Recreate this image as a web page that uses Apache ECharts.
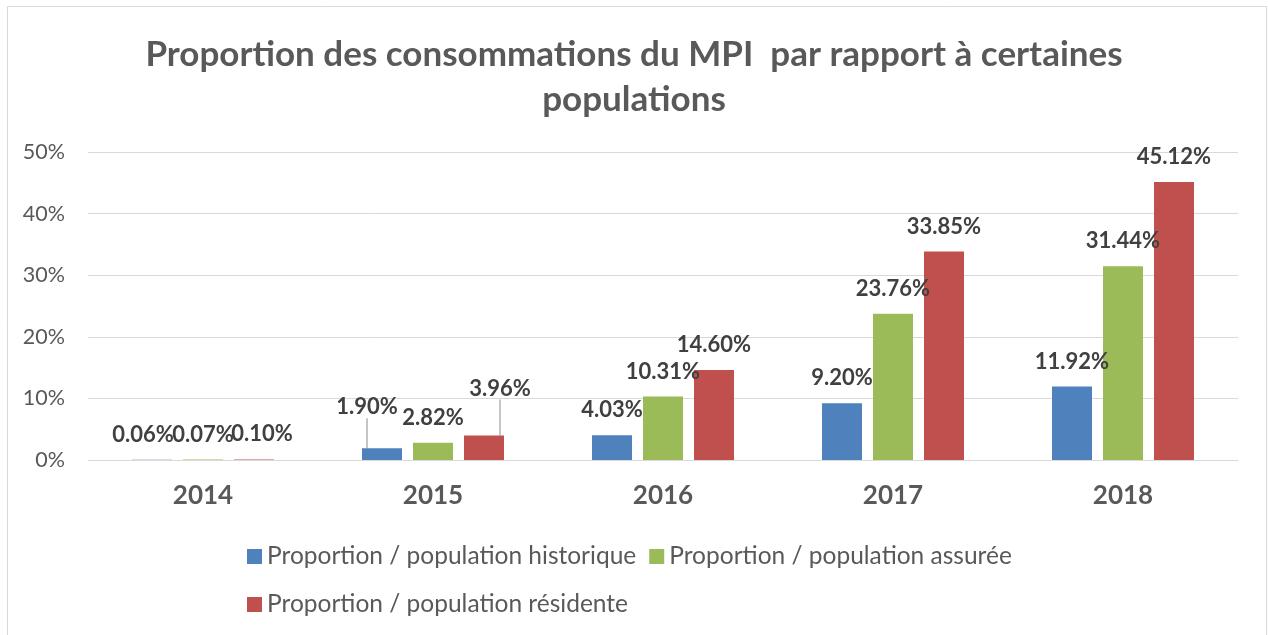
<!DOCTYPE html>
<html>
<head>
<meta charset="utf-8">
<script src="https://cdn.jsdelivr.net/npm/echarts@6/dist/echarts.min.js"></script>
<style>
html,body{margin:0;padding:0;background:#fff;}
#chart{width:1268px;height:635px;}
</style>
</head>
<body>
<div id="chart"></div>
<script>
const categories = ['2014', '2015', '2016', '2017', '2018'];
const seriesNames = ['Proportion / population historique', 'Proportion / population assurée', 'Proportion / population résidente'];
const historique = [0.06, 1.90, 4.03, 9.20, 11.92];
const assuree = [0.07, 2.82, 10.31, 23.76, 31.44];
const residente = [0.10, 3.96, 14.60, 33.85, 45.12];
const colors = ['#4F81BD', '#9BBB59', '#C0504D'];
const titleText = 'Proportion des consommations du MPI  par rapport à certaines\npopulations';

const FONT = 'Lato';
// label shifts (dx, dy) for crowded labels
const shifts = {
  '0-0': [-9, 0], '0-1': [-15, -16],
  '2-0': [8, 0], '2-1': [16, -22]
};
const withLines = {'0-1': true, '2-1': true};

function buildData(values, s) {
  return values.map((v, i) => {
    const key = s + '-' + i;
    return withLines[key] ? {value: v, labelLine: {show: true}} : {value: v};
  });
}

const chart = echarts.init(document.getElementById('chart'), null, {renderer: 'canvas'});
const seriesVals = [historique, assuree, residente];
chart.setOption({
  animation: false,
  color: colors,
  graphic: [{
    type: 'rect', silent: true, z: -1,
    shape: {x: 7.5, y: 6.5, width: 1259, height: 640},
    style: {fill: '#fff', stroke: '#d9d9d9', lineWidth: 1}
  }],
  title: {
    text: titleText,
    left: 'center', top: 27,
    textStyle: {fontFamily: FONT, fontSize: 35, fontWeight: 'bold', color: '#595959', lineHeight: 45}
  },
  grid: {left: 88, right: 30, top: 152, bottom: 175, containLabel: false},
  legend: {
    left: 242, top: 534, width: 830,
    itemWidth: 15, itemHeight: 15, itemGap: 13,
    icon: 'rect',
    textStyle: {fontFamily: FONT, fontSize: 24.5, color: '#595959', lineHeight: 35},
    data: seriesNames
  },
  xAxis: {
    type: 'category', data: categories,
    axisLine: {lineStyle: {color: '#d9d9d9', width: 1}},
    axisTick: {show: false},
    axisLabel: {fontFamily: FONT, fontSize: 26, fontWeight: 'bold', color: '#595959', margin: 23}
  },
  yAxis: {
    type: 'value', min: 0, max: 50, interval: 10,
    axisLine: {show: false}, axisTick: {show: false},
    splitLine: {lineStyle: {color: '#d9d9d9', width: 1}},
    axisLabel: {fontFamily: FONT, fontSize: 21.5, color: '#595959', margin: 23, formatter: '{value}%'}
  },
  series: seriesVals.map((vals, s) => ({
    name: seriesNames[s],
    type: 'bar',
    barWidth: 40,
    barGap: '27.5%',
    data: buildData(vals, s),
    label: {
      show: true, position: 'top', distance: 14,
      fontFamily: FONT, fontSize: 22, fontWeight: 'bold', color: '#404040',
      formatter: p => p.value.toFixed(2) + '%'
    },
    labelLine: {show: false, lineStyle: {color: '#a6a6a6', width: 1.3}},
    labelLayout: function (params) {
      const k = params.seriesIndex + '-' + params.dataIndex;
      const sh = shifts[k];
      if (!sh) return {};
      return {dx: sh[0], dy: sh[1]};
    }
  }))
});
</script>
</body>
</html>
